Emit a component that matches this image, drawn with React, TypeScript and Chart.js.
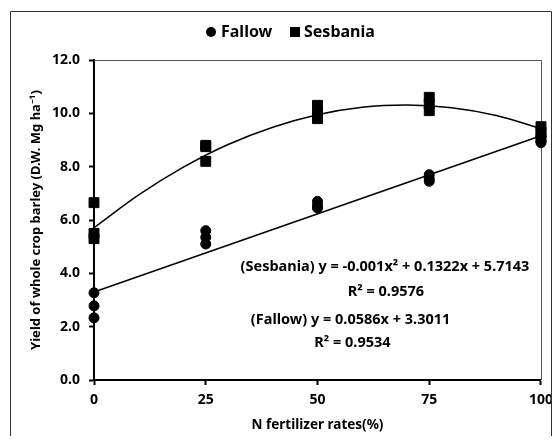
import React, { useEffect, useRef } from "react";
import { Chart, registerables } from "chart.js";

Chart.register(...registerables);

const nRates = [0, 25, 50, 75, 100];
const fallowReps = [
  [3.27, 2.78, 2.33],
  [5.6, 5.35, 5.1],
  [6.7, 6.55, 6.45],
  [7.7, 7.55, 7.45],
  [9.1, 8.95, 8.9],
];
const sesbaniaReps = [
  [6.65, 5.5, 5.3],
  [8.8, 8.75, 8.2],
  [10.3, 10.0, 9.8],
  [10.6, 10.35, 10.1],
  [9.5, 9.3, 9.1],
];
const sesbaniaTrendX = [0, 10, 20, 30, 40, 50, 60, 70, 80, 90, 100];
const sesbaniaTrendY = [5.71, 6.94, 7.98, 8.83, 9.48, 9.95, 10.23, 10.31, 10.21, 9.92, 9.43];
const fallowTrendX = [0, 100];
const fallowTrendY = [3.3, 9.16];
const yTicks = [0, 2, 4, 6, 8, 10, 12];
const xTicks = [0, 25, 50, 75, 100];
const legendLabels = ["Fallow", "Sesbania"];
const equationTexts = [
  { text: "(Sesbania) y = -0.001x² + 0.1322x + 5.7143", x: 65.1, y: 4.24 },
  { text: "R² = 0.9576", x: 65.3, y: 3.3 },
  { text: "(Fallow) y = 0.0586x + 3.3011", x: 57.4, y: 2.25 },
  { text: "R² = 0.9534", x: 57.8, y: 1.39 },
];

const FONT = "'Noto Sans', 'Open Sans', sans-serif";

function flatten(reps: number[][]) {
  const out: { x: number; y: number }[] = [];
  reps.forEach((row, i) => row.forEach((v) => out.push({ x: nRates[i], y: v })));
  return out;
}

const decorPlugin = {
  id: "decor",
  afterDraw(chart: any) {
    const { ctx, scales } = chart;
    ctx.save();
    // outer frame
    ctx.strokeStyle = "#333";
    ctx.lineWidth = 1;
    ctx.beginPath();
    ctx.moveTo(10.5, 460);
    ctx.lineTo(10.5, 11.5);
    ctx.lineTo(551.5, 11.5);
    ctx.lineTo(551.5, 460);
    ctx.stroke();
    // legend
    ctx.fillStyle = "#000";
    ctx.font = `bold 16px ${FONT}`;
    ctx.textBaseline = "middle";
    ctx.textAlign = "left";
    ctx.beginPath();
    ctx.arc(211, 32, 5, 0, Math.PI * 2);
    ctx.fill();
    ctx.fillText(legendLabels[0], 221, 32);
    ctx.fillRect(290, 27, 10, 10);
    ctx.fillText(legendLabels[1], 304, 32);
    // equations
    ctx.font = `bold 14.5px ${FONT}`;
    ctx.textAlign = "center";
    equationTexts.forEach((e) => {
      ctx.fillText(e.text, scales.x.getPixelForValue(e.x), scales.y.getPixelForValue(e.y));
    });
    ctx.restore();
  },
  beforeDatasetsDraw(chart: any) {
    const { ctx, chartArea } = chart;
    ctx.save();
    ctx.strokeStyle = "#555";
    ctx.lineWidth = 1;
    ctx.beginPath();
    ctx.moveTo(chartArea.left, chartArea.top + 0.5);
    ctx.lineTo(chartArea.right + 0.5, chartArea.top + 0.5);
    ctx.lineTo(chartArea.right + 0.5, chartArea.bottom);
    ctx.stroke();
    ctx.restore();
  },
};

export default function App() {
  const ref = useRef<HTMLCanvasElement | null>(null);
  useEffect(() => {
    if (!ref.current) return;
    const chart = new Chart(ref.current, {
      type: "scatter",
      data: {
        datasets: [
          {
            label: "Sesbania trend",
            data: sesbaniaTrendX.map((x, i) => ({ x, y: sesbaniaTrendY[i] })),
            showLine: true,
            borderColor: "#000",
            borderWidth: 1.5,
            pointRadius: 0,
            cubicInterpolationMode: "monotone",
            fill: false,
            clip: false,
          },
          {
            label: "Fallow trend",
            data: fallowTrendX.map((x, i) => ({ x, y: fallowTrendY[i] })),
            showLine: true,
            borderColor: "#000",
            borderWidth: 1.5,
            pointRadius: 0,
            fill: false,
            clip: false,
          },
          {
            label: legendLabels[0],
            data: flatten(fallowReps),
            pointStyle: "circle",
            pointRadius: 5,
            backgroundColor: "#000",
            borderColor: "#000",
            clip: false,
          },
          {
            label: legendLabels[1],
            data: flatten(sesbaniaReps),
            pointStyle: "rect",
            pointRadius: 7,
            backgroundColor: "#000",
            borderColor: "#000",
            clip: false,
          },
        ],
      } as any,
      options: {
        responsive: false,
        animation: false,
        layout: { padding: { left: 24, top: 60, right: 19, bottom: 7 } },
        plugins: {
          legend: { display: false },
          tooltip: { enabled: false },
        },
        scales: {
          x: {
            type: "linear",
            min: 0,
            max: 100,
            afterBuildTicks: (s: any) => {
              s.ticks = xTicks.map((v) => ({ value: v }));
            },
            afterFit: (s: any) => {
              s.height = 57;
            },
            grid: {
              drawOnChartArea: false,
              drawTicks: true,
              tickLength: 5,
              tickWidth: 2,
              tickColor: "#000",
            },
            border: { display: true, color: "#000", width: 2 },
            ticks: {
              color: "#000",
              padding: 7,
              font: { family: FONT, size: 14, weight: "bold" },
            },
            title: {
              display: true,
              text: "N fertilizer rates(%)",
              color: "#000",
              padding: { top: 4, bottom: 4 },
              font: { family: FONT, size: 13.5, weight: "bold" },
            },
          },
          y: {
            type: "linear",
            min: 0,
            max: 12,
            afterBuildTicks: (s: any) => {
              s.ticks = yTicks.map((v) => ({ value: v }));
            },
            afterFit: (s: any) => {
              s.width = 70;
            },
            grid: {
              drawOnChartArea: false,
              drawTicks: true,
              tickLength: 5,
              tickWidth: 2,
              tickColor: "#000",
            },
            border: { display: true, color: "#000", width: 2 },
            ticks: {
              color: "#000",
              padding: 9,
              callback: (v: any) => Number(v).toFixed(1),
              font: { family: FONT, size: 14, weight: "bold" },
            },
            title: {
              display: true,
              text: "Yield of whole crop barley (D.W. Mg ha⁻¹)",
              color: "#000",
              padding: { top: 4, bottom: 4 },
              font: { family: FONT, size: 13, weight: "bold" },
            },
          },
        },
      } as any,
      plugins: [decorPlugin],
    });
    return () => chart.destroy();
  }, []);
  return (
    <div style={{ margin: -8, width: 560, height: 444, background: "#fff" }}>
      <canvas ref={ref} width={560} height={444} style={{ display: "block" }} />
    </div>
  );
}
